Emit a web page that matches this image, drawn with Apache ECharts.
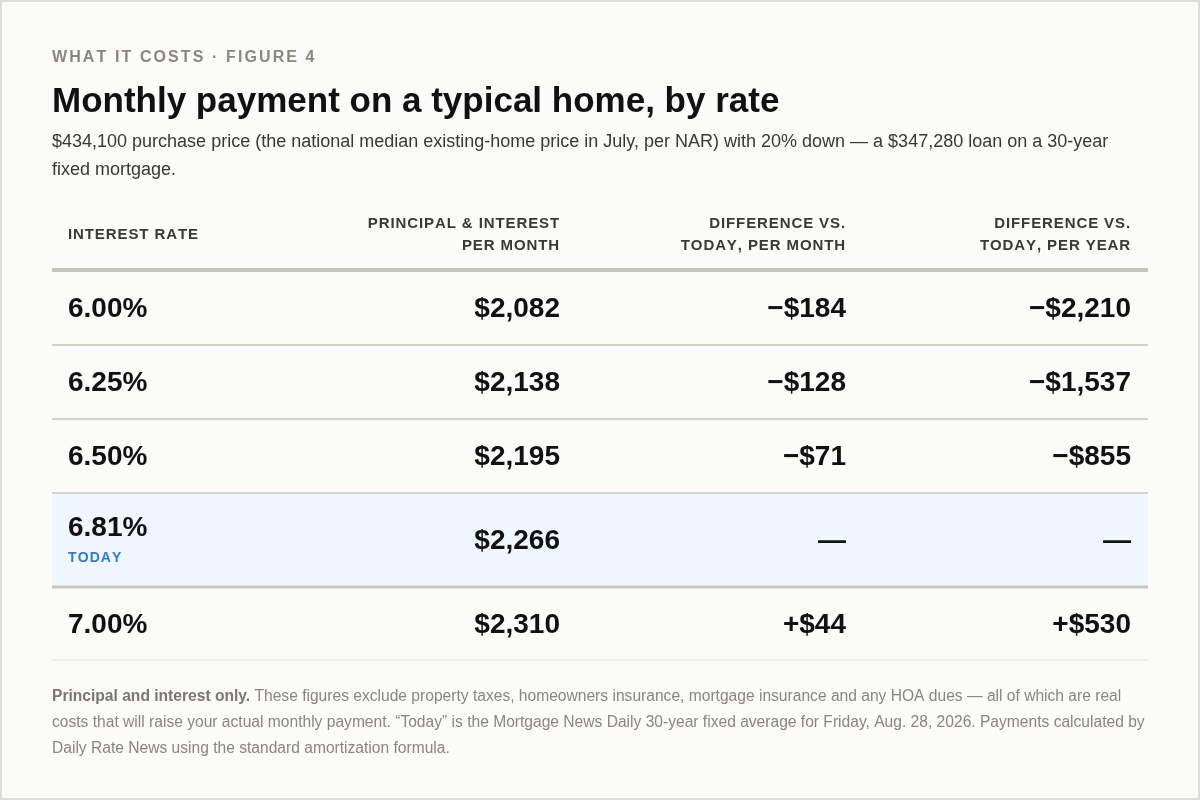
<!DOCTYPE html>
<html lang="en">
<head>
<meta charset="UTF-8">
<title>Monthly payment on a typical home, by rate</title>
<script src="https://cdn.jsdelivr.net/npm/echarts@6/dist/echarts.min.js"></script>
<style>
  html, body { margin: 0; padding: 0; background: #fbfbf9; }
</style>
</head>
<body>
<div id="main" style="width: 1200px;height:800px;"></div>
<script>
  // table data
  const columns = ['INTEREST RATE', 'PRINCIPAL & INTEREST\nPER MONTH', 'DIFFERENCE VS.\nTODAY, PER MONTH', 'DIFFERENCE VS.\nTODAY, PER YEAR'];
  const rates = ['6.00%', '6.25%', '6.50%', '6.81%', '7.00%'];
  const payments = [2082, 2138, 2195, 2266, 2310];
  const diffMonth = [-184, -128, -71, null, 44];
  const diffYear = [-2210, -1537, -855, null, 530];
  const todayRow = 3;
  const todayLabel = 'TODAY';

  const kicker = 'WHAT IT COSTS · FIGURE 4';
  const title = 'Monthly payment on a typical home, by rate';
  const subtitle = [
    '$434,100 purchase price (the national median existing-home price in July, per NAR) with 20% down — a $347,280 loan on a 30-year',
    'fixed mortgage.'
  ];
  const noteBold = 'Principal and interest only.';
  const note = [
    ' These figures exclude property taxes, homeowners insurance, mortgage insurance and any HOA dues — all of which are real',
    'costs that will raise your actual monthly payment. “Today” is the Mortgage News Daily 30-year fixed average for Friday, Aug. 28, 2026. Payments calculated by',
    'Daily Rate News using the standard amortization formula.'
  ];

  // layout (axis units = px inside the grid)
  const tableWidth = 1096;
  const rowEdges = [0, 70, 145, 219, 293, 387, 460];
  const colX = [16, 508, 794, 1079];
  const colAlign = ['left', 'right', 'right', 'right'];
  const font = '"Liberation Sans", Arial, Helvetica, sans-serif';

  function money(v) {
    return '$' + Math.abs(v).toLocaleString('en-US');
  }
  function diff(v) {
    if (v === null) return '—';
    return (v < 0 ? '\u2212' : '+') + money(v);
  }
  // canvas has no letter-spacing, so every char becomes its own rich token
  function spaced(text, style) {
    return text.split('\n').map(function (line) {
      return line.split('').map(function (ch) { return '{' + style + '|' + ch + '}'; }).join('');
    }).join('\n');
  }

  const rowData = [];
  for (let i = 0; i < rowEdges.length - 1; i++) {
    rowData.push([rowEdges[i], rowEdges[i + 1], i]);
  }

  function cellText(r, c) {
    if (c === 0) return rates[r];
    if (c === 1) return money(payments[r]);
    if (c === 2) return diff(diffMonth[r]);
    return diff(diffYear[r]);
  }

  function renderItem(params, api) {
    const i = params.dataIndex;
    const top = api.coord([0, api.value(0)])[1];
    const bottom = api.coord([0, api.value(1)])[1];
    const left = api.coord([0, 0])[0];
    const right = api.coord([tableWidth, 0])[0];
    const mid = (top + bottom) / 2;
    const children = [];

    if (i === 0) {
      columns.forEach(function (name, c) {
        children.push({
          type: 'text',
          x: api.coord([colX[c], 0])[0],
          y: mid - 0.5,
          style: {
            text: spaced(name, 'h'),
            align: colAlign[c],
            verticalAlign: 'middle',
            rich: {
              h: { fontFamily: font, fontSize: 15, fontWeight: 'bold', fill: '#3b3935', lineHeight: 22, padding: [0, 0.9, 0, 0] }
            }
          }
        });
      });
      children.push({
        type: 'rect',
        shape: { x: left, y: bottom - 2, width: right - left, height: 4 },
        style: { fill: '#c6c7bc' }
      });
      return { type: 'group', children: children };
    }

    const r = i - 1;
    const isToday = r === todayRow;
    if (isToday) {
      children.push({
        type: 'rect',
        shape: { x: left, y: top + 1, width: right - left, height: bottom - top - 2 },
        style: { fill: '#f0f6fe' }
      });
    }
    for (let c = 0; c < columns.length; c++) {
      let y = mid + 1.5;
      if (isToday && c === 0) y = mid - 12;
      children.push({
        type: 'text',
        x: api.coord([colX[c], 0])[0],
        y: y,
        style: {
          text: cellText(r, c),
          align: colAlign[c],
          verticalAlign: 'middle',
          fontFamily: font,
          fontSize: 28,
          fontWeight: 'bold',
          fill: '#111111'
        }
      });
    }
    if (isToday) {
      children.push({
        type: 'text',
        x: api.coord([colX[0], 0])[0],
        y: mid + 18.5,
        style: {
          text: spaced(todayLabel, 't'),
          align: 'left',
          verticalAlign: 'middle',
          rich: {
            t: { fontFamily: font, fontSize: 14, fontWeight: 'bold', fill: '#2e7bd6', padding: [0, 1.1, 0, 0] }
          }
        }
      });
    }
    // row separator
    let lineH = 2, lineColor = '#d2d3ca';
    if (isToday) { lineH = 3; lineColor = '#c6c7bc'; }
    if (r === rates.length - 1) { lineH = 1; lineColor = '#e2e2dc'; }
    children.push({
      type: 'rect',
      shape: { x: left, y: bottom - lineH / 2, width: right - left, height: lineH },
      style: { fill: lineColor }
    });
    return { type: 'group', children: children };
  }

  const myChart = echarts.init(document.getElementById('main'));
  const option = {
    backgroundColor: '#fbfbf9',
    animation: false,
    grid: { left: 52, right: 52, top: 200, bottom: 140 },
    xAxis: { type: 'value', min: 0, max: tableWidth, show: false },
    yAxis: { type: 'value', min: 0, max: rowEdges[rowEdges.length - 1], inverse: true, show: false },
    graphic: [
      {
        type: 'rect', silent: true, z: -10,
        shape: { x: 1, y: 1, width: 1198, height: 798 },
        style: { fill: 'none', stroke: '#dfdfd9', lineWidth: 2 }
      },
      {
        type: 'text', left: 52, top: 50,
        style: {
          text: spaced(kicker, 'k'),
          rich: { k: { fontFamily: font, fontSize: 16, fontWeight: 'bold', fill: '#8b877f', padding: [0, 2.1, 0, 0] } }
        }
      },
      {
        type: 'text', left: 52, top: 85,
        style: { text: title, fontFamily: font, fontSize: 35, fontWeight: 'bold', fill: '#111111' }
      },
      {
        type: 'text', left: 52, top: 128,
        style: { text: subtitle.join('\n'), fontFamily: font, fontSize: 18, lineHeight: 28, fill: '#3a3835' }
      },
      {
        type: 'text', left: 52, top: 689,
        style: {
          text: '{b|' + noteBold + '}{n|' + note[0] + '}\n{n|' + note[1] + '}\n{n|' + note[2] + '}',
          rich: {
            b: { fontFamily: font, fontSize: 15.6, fontWeight: 'bold', fill: '#7b7770', lineHeight: 26 },
            n: { fontFamily: font, fontSize: 15.6, fill: '#8a867f', lineHeight: 26 }
          }
        }
      }
    ],
    series: [
      {
        type: 'custom',
        name: 'Monthly payment',
        renderItem: renderItem,
        data: rowData,
        encode: { y: [0, 1] },
        silent: true
      }
    ]
  };
  myChart.setOption(option);
</script>
</body>
</html>
